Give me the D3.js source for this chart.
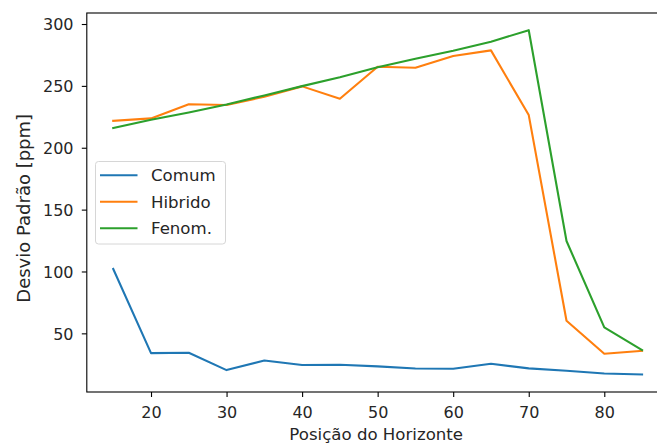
<!DOCTYPE html>
<html>
<head>
<meta charset="utf-8">
<script src="https://cdn.jsdelivr.net/npm/d3@7"></script>
<style>
  body { margin: 0; background: #fff; }
  svg { font-family: "DejaVu Sans", sans-serif; }
</style>
</head>
<body>
<svg id="chart" width="657" height="448"></svg>
<script>
const positions = [15, 20, 25, 30, 35, 40, 45, 50, 55, 60, 65, 70, 75, 80, 85];
const comum   = [102, 34, 34.3, 20.3, 28, 24.4, 24.6, 23.3, 21.6, 21.4, 25.4, 21.7, 19.8, 17.6, 16.8];
const hibrido = [221.8, 223.7, 235.2, 234.5, 241.2, 249.6, 239.6, 265.5, 264.7, 274.1, 278.7, 226.4, 60.2, 33.5, 35.9];
const fenom   = [216, 222.6, 228.5, 235, 242.3, 249.8, 257, 265, 272, 278.4, 285.7, 295, 124.6, 54.8, 36.4];
const seriesNames = ["Comum", "Hibrido", "Fenom."];
const xTicks = [20, 30, 40, 50, 60, 70, 80];
const yTicks = [50, 100, 150, 200, 250, 300];

const colors = ["#1f77b4", "#ff7f0e", "#2ca02c"];
const margin = { left: 86.8, right: 668.5, top: 13, bottom: 392 };

const svg = d3.select("#chart");

let xScale = d3.scaleLinear().domain([11.5, 88.5]).range([margin.left, margin.right]);
let yScale = d3.scaleLinear().domain([2.6, 308.9]).range([margin.bottom, margin.top]);

/* ========== LINES ========== */
const allSeries = [comum, hibrido, fenom];
let lineGen = d3.line()
  .x((d, i) => xScale(positions[i]))
  .y(d => yScale(d));

svg.append("g")
  .selectAll("path")
  .data(allSeries)
  .join("path")
  .attr("fill", "none")
  .attr("stroke", (d, i) => colors[i])
  .attr("stroke-width", 2.1)
  .attr("stroke-linejoin", "round")
  .attr("stroke-linecap", "square")
  .attr("d", d => lineGen(d));

/* ========== AXES ========== */
let xAxis = d3.axisBottom(xScale).tickValues(xTicks).tickSize(5).tickFormat(d3.format("d"));
let yAxis = d3.axisLeft(yScale).tickValues(yTicks).tickSize(5).tickPadding(8.3).tickFormat(d3.format("d"));

let xg = svg.append("g")
  .attr("transform", "translate(0," + margin.bottom + ")")
  .call(xAxis);
let yg = svg.append("g")
  .attr("transform", "translate(" + margin.left + ",0)")
  .call(yAxis);

[xg, yg].forEach(g => {
  g.select(".domain").remove();
  g.selectAll(".tick line").attr("stroke", "#000").attr("stroke-width", 1.1);
  g.selectAll(".tick text").attr("fill", "#262626").style("font-size", "16px").style("font-family", "DejaVu Sans");
});
xg.selectAll(".tick text").attr("y", 26).attr("dy", "0");
yg.selectAll(".tick text").attr("dy", "0.36em");

// frame
svg.append("rect")
  .attr("x", margin.left)
  .attr("y", margin.top)
  .attr("width", margin.right - margin.left)
  .attr("height", margin.bottom - margin.top)
  .attr("fill", "none")
  .attr("stroke", "#000")
  .attr("stroke-width", 1.1);

/* ========== LABELS ========== */
svg.append("text")
  .attr("x", 376.2)
  .attr("y", 440)
  .attr("text-anchor", "middle")
  .attr("fill", "#262626")
  .style("font-size", "16.6px")
  .text("Posição do Horizonte");

svg.append("text")
  .attr("transform", "translate(29.5,208.3) rotate(-90)")
  .attr("text-anchor", "middle")
  .attr("fill", "#262626")
  .style("font-size", "18px")
  .text("Desvio Padrão [ppm]");

/* ========== LEGEND ========== */
let legend = svg.append("g").attr("class", "legend");
legend.append("rect")
  .attr("x", 95.5)
  .attr("y", 161.5)
  .attr("width", 130)
  .attr("height", 82.5)
  .attr("rx", 3)
  .attr("fill", "#fff")
  .attr("fill-opacity", 0.8)
  .attr("stroke", "#d6d6d6")
  .attr("stroke-width", 1);

legend.selectAll("line").data(seriesNames).join("line")
  .attr("x1", 100)
  .attr("x2", 137.5)
  .attr("y1", (d, i) => 175.3 + 26.5 * i)
  .attr("y2", (d, i) => 175.3 + 26.5 * i)
  .attr("stroke", (d, i) => colors[i])
  .attr("stroke-width", 2.1);

legend.selectAll("text").data(seriesNames).join("text")
  .attr("x", 151)
  .attr("y", (d, i) => 175.3 + 26.5 * i)
  .attr("dy", "0.36em")
  .attr("fill", "#262626")
  .style("font-size", "16.6px")
  .text(d => d);
</script>
</body>
</html>
